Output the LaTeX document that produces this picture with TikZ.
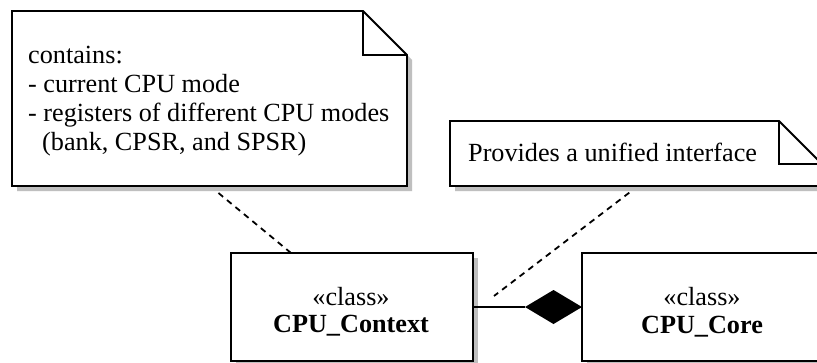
\documentclass[tikz,border=0pt]{standalone}
\usepackage{fontspec}
\setmainfont{Liberation Serif}
\usetikzlibrary{shapes.geometric}
\begin{document}
\begin{tikzpicture}[x=1bp,y=-1bp,
  box/.style={draw=none, inner sep=0, outer sep=0},
  outline/.style={draw=black, line width=1.8bp, fill=white, line join=miter},
  foldline/.style={draw=black, line width=1.8bp},
  shadowfill/.style={fill=black!25, draw=none, transform canvas={xshift=5bp, yshift=-5bp}},
  txt/.style={font=\fontsize{26.3}{29}\selectfont, inner sep=0, anchor=base west},
  ctxt/.style={font=\fontsize{26.3}{29}\selectfont, inner sep=0, anchor=base},
  btxt/.style={font=\fontsize{26.3}{29}\selectfont\bfseries, inner sep=0, anchor=base},
  notelink/.style={draw=black, line width=1.8bp, dash pattern=on 6bp off 5bp},
  assoc/.style={draw=black, line width=1.8bp}
]
\useasboundingbox (0,0) rectangle (817,362);
\clip (0,0) rectangle (817,362);
\fill[white] (0,0) rectangle (817,362);

% named areas
\node[box, minimum width=395bp, minimum height=175bp, anchor=north west] (n1) at (12,11) {};
\node[box, minimum width=372bp, minimum height=65bp, anchor=north west] (n2) at (450,121) {};
\node[box, minimum width=242bp, minimum height=108bp] (ctx) at (352,307) {};
\node[box, minimum width=242bp, minimum height=108bp] (core) at (703,307) {};

% note connectors (under the notes)
\coordinate (assocpt) at (494,296);
\draw[notelink] ([xshift=198bp]n1.south west) -- ([xshift=60bp]ctx.north west);
\draw[notelink] ([xshift=188bp]n2.south west) -- (assocpt);

% note 1
\fill[shadowfill] (n1.north west) -- ([xshift=-44bp]n1.north east) -- ([yshift=-44bp]n1.north east) -- (n1.south east) -- (n1.south west) -- cycle;
\path[outline] (n1.north west) -- ([xshift=-44bp]n1.north east) -- ([yshift=-44bp]n1.north east) -- (n1.south east) -- (n1.south west) -- cycle;
\draw[foldline] ([xshift=-44bp]n1.north east) -- ([xshift=-44bp,yshift=-44bp]n1.north east) -- ([yshift=-44bp]n1.north east);
\node[txt] (n1l1) at (28,63) {contains:};
\node[txt] (n1l2) at (28,92) {- current CPU mode};
\node[txt] (n1l3) at (28,121) {- registers of different CPU modes};
\node[txt] (n1l4) at (42,150) {(bank, CPSR, and SPSR)};

% note 2
\fill[shadowfill] (n2.north west) -- ([xshift=-43bp]n2.north east) -- ([yshift=-43bp]n2.north east) -- (n2.south east) -- (n2.south west) -- cycle;
\path[outline] (n2.north west) -- ([xshift=-43bp]n2.north east) -- ([yshift=-43bp]n2.north east) -- (n2.south east) -- (n2.south west) -- cycle;
\draw[foldline] ([xshift=-43bp]n2.north east) -- ([xshift=-43bp,yshift=-43bp]n2.north east) -- ([yshift=-43bp]n2.north east);
\node[txt] (n2l1) at (468,161) {Provides a unified interface};

% classes
\fill[shadowfill] (ctx.north west) rectangle (ctx.south east);
\path[outline] (ctx.north west) rectangle (ctx.south east);
\fill[shadowfill] (core.north west) rectangle (core.south east);
\path[outline] (core.north west) rectangle (core.south east);
\node[ctxt] (ctxst) at (351,305) {«class»};
\node[btxt] (ctxname) at (351,332) {CPU\_Context};
\node[ctxt] (corest) at (702,305) {«class»};
\node[btxt] (corename) at (702,333) {CPU\_Core};

% composition
\node[diamond, fill=black, draw=none, inner sep=0, outer sep=0, minimum width=57bp, minimum height=34bp, anchor=east] (dia) at (core.west) {};
\draw[assoc] (ctx.east) -- (dia.west);
\end{tikzpicture}
\end{document}
